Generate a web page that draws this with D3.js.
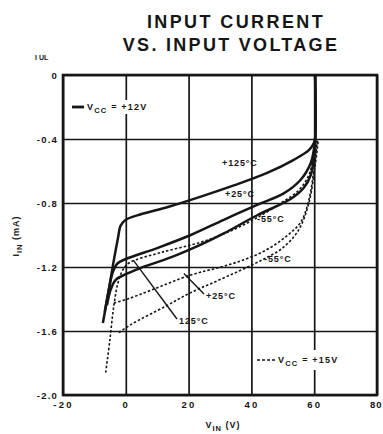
<!DOCTYPE html>
<html><head><meta charset="utf-8">
<script src="https://cdn.jsdelivr.net/npm/d3@7"></script>
<style>body{margin:0;background:#fff}</style>
</head><body><svg id="c" width="383" height="434"></svg>
<script>
const xTicks=[-20,0,20,40,60,80];
const yTicks=[0,-0.4,-0.8,-1.2,-1.6,-2.0];
const yTickLabels=["0","-0.4","-0.8","-1.2","-1.6","-2.0"];
// V_CC = +12V (solid)
const s12_p125=[[-7.3,-1.55],[-5.7,-1.375],[-4.1,-1.19],[-2.5,-1.02],[-1.6,-0.94],[0,-0.905],[4.8,-0.87],[13.4,-0.825],[23.9,-0.76],[34.4,-0.69],[45.2,-0.61],[53.5,-0.53],[58.3,-0.47],[59.9,-0.425],[60.3,-0.39],[60.3,0]];
const s12_p25=[[-6.7,-1.48],[-5.4,-1.34],[-4.1,-1.23],[-2.5,-1.175],[0,-1.15],[10.2,-1.08],[20.7,-1.0],[31.2,-0.905],[42,-0.81],[50.3,-0.74],[55.7,-0.655],[58.9,-0.55],[60.0,-0.455],[60.3,-0.42],[60.3,0]];
const s12_m55=[[-6,-1.44],[-4.8,-1.34],[-3.2,-1.28],[0,-1.245],[4.8,-1.205],[14.3,-1.14],[23.9,-1.06],[31.2,-0.99],[42,-0.875],[52.5,-0.775],[56.7,-0.705],[58.9,-0.625],[59.9,-0.52],[60.3,-0.44],[60.3,0]];
// V_CC = +15V (dashed)
const s15_p125=[[-6.4,-1.86],[-5.1,-1.66],[-3.8,-1.44],[-2.5,-1.3],[-1,-1.22],[1,-1.175],[11.1,-1.11],[23.9,-1.045],[33.4,-0.975],[42,-0.89],[49.4,-0.8],[55.1,-0.72],[58.3,-0.625],[59.9,-0.5],[61,-0.41]];
const s15_p25=[[-3.8,-1.425],[0.6,-1.40],[8,-1.345],[20.7,-1.25],[30.3,-1.2],[37.6,-1.155],[44.6,-1.095],[51,-1.01],[55.7,-0.92],[58.3,-0.78],[59.9,-0.595],[61,-0.41]];
const s15_m55=[[-2.2,-1.61],[1.6,-1.56],[12.7,-1.445],[20.7,-1.36],[28.7,-1.29],[36.6,-1.22],[44,-1.15],[50,-1.08],[55,-0.97],[58.3,-0.8],[60.2,-0.58],[61.3,-0.41]];

const svg=d3.select("#c");
const x=d3.scaleLinear().domain([-20,80]).range([63,377]);
const y=d3.scaleLinear().domain([-2,0]).range([395,75]);
const ink="#161616";
const font="Liberation Sans, Arial, sans-serif";

// title
svg.append("text").attr("x",236).attr("y",28).attr("text-anchor","middle")
 .attr("font-family",font).attr("font-weight","bold").attr("font-size",18).attr("letter-spacing",2.4).attr("fill",ink).text("INPUT CURRENT");
svg.append("text").attr("x",231).attr("y",51).attr("text-anchor","middle")
 .attr("font-family",font).attr("font-weight","bold").attr("font-size",18).attr("letter-spacing",2.3).attr("fill",ink).text("VS. INPUT VOLTAGE");
svg.append("text").attr("x",35).attr("y",60).attr("font-family",font).attr("font-weight","bold").attr("font-size",7).attr("fill",ink).text("I UL");

// grid via axes
const gx=svg.append("g").attr("transform","translate(0,395)")
 .call(d3.axisBottom(x).tickValues(xTicks).tickSize(-320).tickFormat(d=>d));
gx.select(".domain").remove();
gx.selectAll(".tick line").attr("stroke",ink).attr("stroke-width",1.7);
gx.selectAll(".tick text").attr("font-family",font).attr("font-weight","bold").attr("font-size",9.5).attr("fill",ink).attr("dy","1.0em").attr("letter-spacing",2.2);
gx.selectAll(".tick text").filter(d=>d===80).attr("text-anchor","end").attr("x",5).attr("letter-spacing",1);
const gy=svg.append("g").attr("transform","translate(63,0)")
 .call(d3.axisLeft(y).tickValues(yTicks).tickSize(-314).tickFormat((d,i)=>yTickLabels[i]));
gy.select(".domain").remove();
gy.selectAll(".tick line").attr("stroke",ink).attr("stroke-width",1.7);
gy.selectAll(".tick text").attr("font-family",font).attr("font-weight","bold").attr("font-size",9.5).attr("fill",ink).attr("x",-5).attr("letter-spacing",1.2);

// frame
svg.append("rect").attr("x",x(-20)).attr("y",y(0)).attr("width",x(80)-x(-20)).attr("height",y(-2)-y(0))
 .attr("fill","none").attr("stroke",ink).attr("stroke-width",2.6);

// curves
const lineC=d3.line().x(d=>x(d[0])).y(d=>y(d[1])).curve(d3.curveCatmullRom.alpha(0.5));
[s12_p125,s12_p25,s12_m55].forEach(s=>{
 svg.append("path").attr("d",lineC(s)).attr("fill","none").attr("stroke",ink).attr("stroke-width",2.5);
});
[s15_p125,s15_p25,s15_m55].forEach(s=>{
 svg.append("path").attr("d",lineC(s)).attr("fill","none").attr("stroke",ink).attr("stroke-width",1.6).attr("stroke-dasharray","2.5,2");
});

// curve labels
function lab(t,xx,yy){svg.append("text").attr("x",xx).attr("y",yy)
 .attr("font-family",font).attr("font-weight","bold").attr("font-size",9).attr("letter-spacing",0.9).attr("fill",ink).text(t);}
lab("+125°C",222,166);
lab("+25°C",225,197);
lab("-55°C",257,222);
lab("-55°C",264,262);
lab("+25°C",206,299);
lab("125°C",179,324);
// leaders
svg.append("line").attr("x1",x(18.5)).attr("y1",y(-1.24)).attr("x2",204).attr("y2",294).attr("stroke",ink).attr("stroke-width",1.4);
svg.append("line").attr("x1",x(2.5)).attr("y1",y(-1.16)).attr("x2",177).attr("y2",319).attr("stroke",ink).attr("stroke-width",1.4);

// legends
function vcc(g,xx,yy,val){
 const t=g.append("text").attr("x",xx).attr("y",yy).attr("font-family",font).attr("font-weight","bold").attr("font-size",9).attr("letter-spacing",1.2).attr("fill",ink);
 t.append("tspan").text("V");
 t.append("tspan").attr("font-size",7.5).attr("dy",2.5).text("CC");
 t.append("tspan").attr("dy",-2.5).text(" = "+val);
 return t;
}
const lg1=svg.append("g");
lg1.append("rect").attr("x",68).attr("y",100).attr("width",86).attr("height",14).attr("fill","#fff");
lg1.append("line").attr("x1",72).attr("x2",84).attr("y1",107).attr("y2",107).attr("stroke",ink).attr("stroke-width",2.8);
vcc(lg1,87,110,"+12V");
const lg2=svg.append("g");
lg2.append("rect").attr("x",253).attr("y",350).attr("width",102).attr("height",20).attr("fill","#fff");
lg2.append("line").attr("x1",257).attr("x2",276).attr("y1",360).attr("y2",360).attr("stroke",ink).attr("stroke-width",1.6).attr("stroke-dasharray","3,2");
vcc(lg2,278,363,"+15V");

// axis titles
const xt=svg.append("text").attr("x",223).attr("y",428).attr("text-anchor","middle").attr("font-family",font).attr("font-weight","bold").attr("font-size",9).attr("letter-spacing",1).attr("fill",ink);
xt.append("tspan").text("V");
xt.append("tspan").attr("font-size",7.5).attr("dy",2.5).text("IN");
xt.append("tspan").attr("dy",-2.5).text(" (V)");
const yt=svg.append("text").attr("transform","translate(19,236) rotate(-90)").attr("text-anchor","middle").attr("font-family",font).attr("font-weight","bold").attr("font-size",9).attr("letter-spacing",1).attr("fill",ink);
yt.append("tspan").text("I");
yt.append("tspan").attr("font-size",7.5).attr("dy",2.5).text("IN");
yt.append("tspan").attr("dy",-2.5).text(" (mA)");
</script></body></html>
